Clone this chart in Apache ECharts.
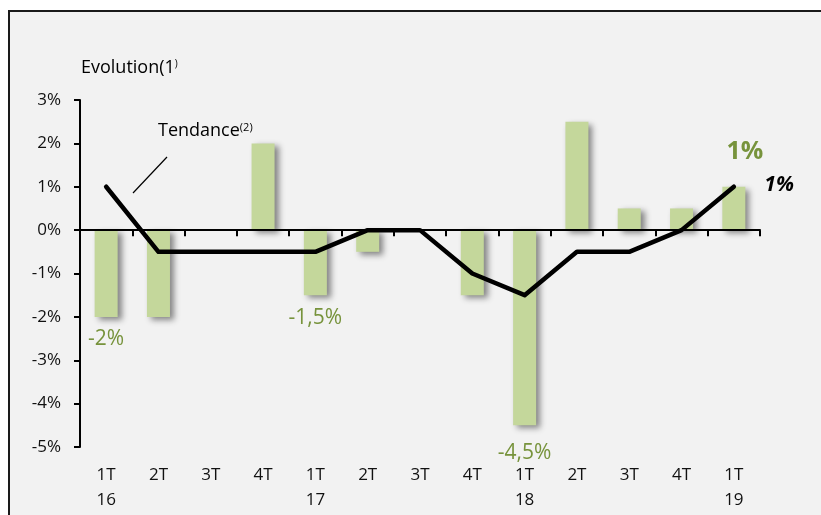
<!DOCTYPE html>
<html>
<head>
<meta charset="utf-8">
<script src="https://cdn.jsdelivr.net/npm/echarts@6/dist/echarts.min.js"></script>
<style>
html,body{margin:0;padding:0;background:#fff;}
#c{width:821px;height:515px;}
</style>
</head>
<body>
<div id="c"></div>
<script>
var quarters = ['1T','2T','3T','4T','1T','2T','3T','4T','1T','2T','3T','4T','1T'];
var years    = ['16','','','','17','','','','18','','','','19'];
var barValues   = [-2, -2, 0, 2, -1.5, -0.5, 0, -1.5, -4.5, 2.5, 0.5, 0.5, 1];
var trendValues = [1, -0.5, -0.5, -0.5, -0.5, 0, 0, -1, -1.5, -0.5, -0.5, 0, 1];
var yTicks = [-5, -4, -3, -2, -1, 0, 1, 2, 3];
var labelledBars = [0, 4, 8, 12];

var FONT = '"Open Sans", "Noto Sans", sans-serif';
var GREEN_TXT = '#77933c';
var fmt = function (v) { return String(v).replace('.', ',') + '%'; };

var labelStyle = {
  0:  {show:true, position:'bottom', distance:12, fontSize:21, color:GREEN_TXT},
  4:  {show:true, position:'bottom', distance:12, fontSize:21, color:GREEN_TXT},
  8:  {show:true, position:'bottom', distance:17, fontSize:21, color:GREEN_TXT},
  12: {show:true, position:'top', distance:22, offset:[11,0], fontSize:25, fontWeight:'bold', color:GREEN_TXT}
};

var categories = quarters.map(function (q, i) { return q + '\n' + years[i]; });

var barData = barValues.map(function (v, i) {
  var item = {value: v};
  if (labelledBars.indexOf(i) >= 0) {
    item.label = Object.assign({fontFamily: FONT, formatter: function (p) { return fmt(p.value); }}, labelStyle[i]);
  }
  return item;
});

var lineData = trendValues.map(function (v, i) {
  var item = {value: v};
  if (i === trendValues.length - 1) {
    item.label = {show:true, position:'right', distance:30, offset:[0,-2], fontSize:21, fontWeight:'bold', fontStyle:'italic',
      color:'#000', fontFamily: FONT, formatter: function (p) { return fmt(p.value); }};
  }
  return item;
});

var chart = echarts.init(document.getElementById('c'), null, {renderer:'canvas'});
chart.setOption({
  animation: false,
  backgroundColor: '#ffffff',
  textStyle: {fontFamily: FONT},
  graphic: [
    {type:'rect', z:-10, shape:{x:9, y:11, width:840, height:540}, style:{fill:'#f2f2f2', stroke:'#1a1a1a', lineWidth:2}},
    {type:'text', x:81, y:68, style:{text:'{b|Evolution(1}{s|)}', textVerticalAlign:'middle', fontFamily:FONT, fill:'#000',
      rich:{b:{fontSize:18, fontFamily:FONT, fill:'#000'}, s:{fontSize:10, fontFamily:FONT, fill:'#000', verticalAlign:'top'}}}},
    {type:'text', x:158, y:131, style:{text:'{b|Tendance}{s|(2)}', textVerticalAlign:'middle', fontFamily:FONT, fill:'#000',
      rich:{b:{fontSize:18, fontFamily:FONT, fill:'#000'}, s:{fontSize:11, fontFamily:FONT, fill:'#000', verticalAlign:'top'}}}},
    {type:'line', shape:{x1:133, y1:193, x2:167, y2:157}, style:{stroke:'#000', lineWidth:1.2}}
  ],
  grid: {left:80, right:61, top:100, bottom:68, containLabel:false, outerBoundsMode:'none'},
  xAxis: [
    {type:'category', data:categories, boundaryGap:true,
      axisLine:{show:true, onZero:true, lineStyle:{color:'#000', width:2}},
      axisTick:{show:true, length:6, lineStyle:{color:'#000', width:2}},
      axisLabel:{show:false}, splitLine:{show:false}, z:5},
    {type:'category', data:categories, position:'bottom', boundaryGap:true,
      axisLine:{show:false, onZero:false}, axisTick:{show:false},
      axisLabel:{show:true, margin:16, fontSize:17, lineHeight:25, color:'#111', fontFamily:FONT, interval:0},
      splitLine:{show:false}}
  ],
  yAxis: {type:'value', min:yTicks[0], max:yTicks[yTicks.length-1], interval:1,
    axisLine:{show:true, lineStyle:{color:'#000', width:2}},
    axisTick:{show:true, length:6, lineStyle:{color:'#000', width:2}},
    axisLabel:{margin:19, fontSize:17, color:'#111', fontFamily:FONT, formatter:function (v) { return v + '%'; }},
    splitLine:{show:false}},
  series: [
    {type:'bar', xAxisIndex:0, data:barData, barWidth:23,
      itemStyle:{color:'#c4d79b', shadowColor:'rgba(0,0,0,0.45)', shadowBlur:6, shadowOffsetX:4, shadowOffsetY:3},
      z:2},
    {type:'line', xAxisIndex:0, data:lineData, showSymbol:true, symbol:'circle', symbolSize:1,
      itemStyle:{color:'#000'},
      lineStyle:{color:'#000', width:4.5, cap:'round', join:'round'}, z:4}
  ]
});
</script>
</body>
</html>
